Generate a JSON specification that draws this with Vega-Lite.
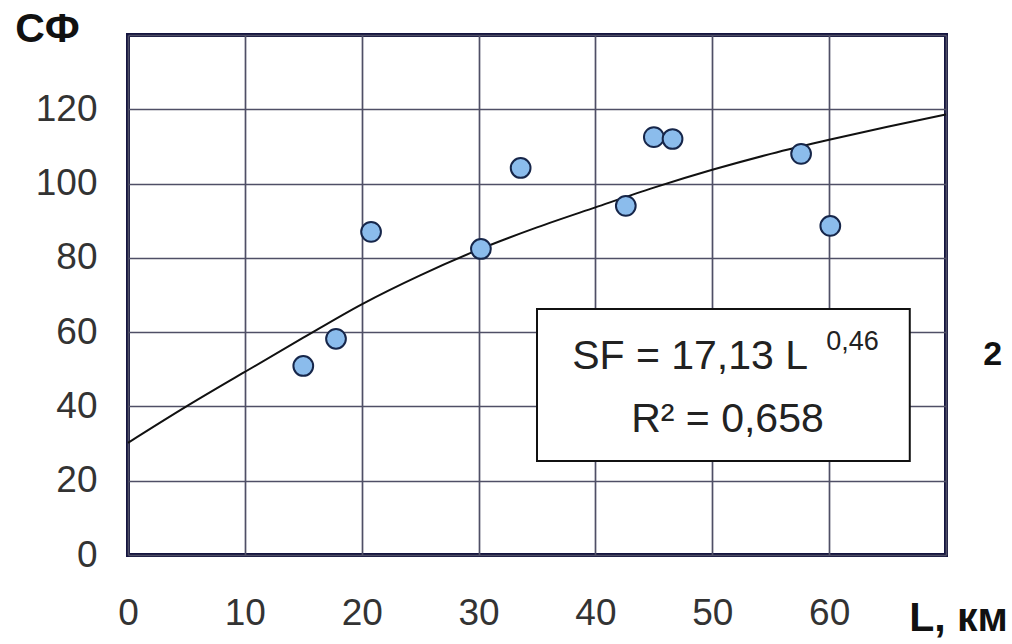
{
  "$schema": "https://vega.github.io/schema/vega-lite/v6.json",
  "width": 818,
  "height": 520,
  "autosize": {"type": "none"},
  "padding": {"left": 128, "top": 35, "right": 66, "bottom": 89},
  "background": "white",
  "config": {
    "view": {"stroke": "#14143f", "strokeWidth": 4},
    "axis": {
      "grid": true,
      "gridColor": "#4f4f66",
      "gridWidth": 1.7,
      "gridOpacity": 1,
      "domain": false,
      "ticks": false,
      "labelFont": "Liberation Sans",
      "labelFontSize": 37,
      "labelColor": "#333333",
      "labelFlush": false,
      "labelOverlap": false,
      "titleFont": "Liberation Sans",
      "titleFontWeight": "bold",
      "titleColor": "#111111"
    }
  },
  "datasets": {
    "points": [
      {"L": 15.0, "SF": 50.9},
      {"L": 17.8, "SF": 58.2},
      {"L": 20.8, "SF": 87.0},
      {"L": 30.2, "SF": 82.4},
      {"L": 33.6, "SF": 104.2},
      {"L": 42.6, "SF": 94.0},
      {"L": 45.0, "SF": 112.5},
      {"L": 46.6, "SF": 112.0},
      {"L": 57.6, "SF": 108.0},
      {"L": 60.1, "SF": 88.6}
    ],
    "curve": [
      {"L": 0, "SF": 30.2},
      {"L": 5, "SF": 40.0},
      {"L": 10, "SF": 49.3},
      {"L": 15, "SF": 58.5},
      {"L": 20, "SF": 67.5},
      {"L": 25, "SF": 75.3},
      {"L": 30, "SF": 82.2},
      {"L": 35, "SF": 88.2},
      {"L": 40, "SF": 93.6},
      {"L": 45, "SF": 98.9},
      {"L": 50, "SF": 103.7},
      {"L": 55, "SF": 108.0},
      {"L": 60, "SF": 111.8},
      {"L": 65, "SF": 115.3},
      {"L": 70, "SF": 118.6}
    ],
    "box": [{"x1": 35.0, "x2": 66.9, "y1": 25.3, "y2": 66.2}],
    "eq": [
      {"x": 48.1, "y": 53.3, "t": "SF = 17,13 L"},
      {"x": 51.3, "y": 36.3, "t": "R² = 0,658"}
    ],
    "sup": [{"x": 62.0, "y": 57.4, "t": "0,46"}],
    "side": [{"x": 74.0, "y": 53.8, "t": "2"}]
  },
  "layer": [
    {
      "data": {"name": "box"},
      "mark": {"type": "rect", "fill": "white", "stroke": "#111111", "strokeWidth": 2},
      "encoding": {
        "x": {"field": "x1", "type": "quantitative", "scale": {"domain": [0, 70], "nice": false},
          "axis": {"values": [0, 10, 20, 30, 40, 50, 60, 70], "labelExpr": "datum.value == 70 ? '' : datum.label", "labelPadding": 40,
            "title": "L, км", "titleFontSize": 41, "titleX": 830, "titleY": 75, "titleAlign": "center", "titleBaseline": "alphabetic"}},
        "x2": {"field": "x2"},
        "y": {"field": "y1", "type": "quantitative", "scale": {"domain": [0, 140], "nice": false},
          "axis": {"values": [0, 20, 40, 60, 80, 100, 120, 140], "labelExpr": "datum.value == 140 ? '' : datum.label", "labelPadding": 31,
            "title": "СФ", "titleFontSize": 41, "titleAngle": 0, "titleX": -81, "titleY": -6, "titleAlign": "center", "titleBaseline": "middle"}},
        "y2": {"field": "y2"}
      }
    },
    {
      "data": {"name": "curve"},
      "mark": {"type": "line", "color": "#111111", "strokeWidth": 2, "interpolate": "monotone"},
      "encoding": {
        "x": {"field": "L", "type": "quantitative"},
        "y": {"field": "SF", "type": "quantitative"}
      }
    },
    {
      "data": {"name": "points"},
      "mark": {"type": "point", "shape": "circle", "filled": true, "fill": "#8bbcec", "stroke": "#16264a", "strokeWidth": 2, "size": 390, "opacity": 1},
      "encoding": {
        "x": {"field": "L", "type": "quantitative"},
        "y": {"field": "SF", "type": "quantitative"}
      }
    },
    {
      "data": {"name": "eq"},
      "mark": {"type": "text", "font": "Liberation Sans", "fontSize": 41, "color": "#222222", "align": "center", "baseline": "middle"},
      "encoding": {
        "x": {"field": "x", "type": "quantitative"},
        "y": {"field": "y", "type": "quantitative"},
        "text": {"field": "t"}
      }
    },
    {
      "data": {"name": "sup"},
      "mark": {"type": "text", "font": "Liberation Sans", "fontSize": 27, "color": "#222222", "align": "center", "baseline": "middle"},
      "encoding": {
        "x": {"field": "x", "type": "quantitative"},
        "y": {"field": "y", "type": "quantitative"},
        "text": {"field": "t"}
      }
    },
    {
      "data": {"name": "side"},
      "mark": {"type": "text", "font": "Liberation Sans", "fontSize": 34, "fontWeight": "bold", "color": "#111111", "align": "center", "baseline": "middle"},
      "encoding": {
        "x": {"field": "x", "type": "quantitative"},
        "y": {"field": "y", "type": "quantitative"},
        "text": {"field": "t"}
      }
    }
  ]
}
